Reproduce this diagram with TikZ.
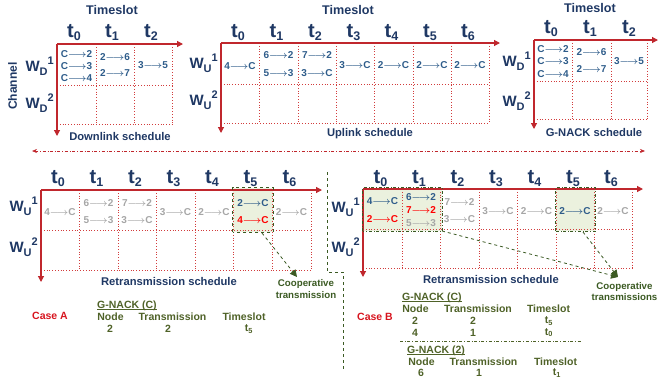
\documentclass[tikz,border=0pt]{standalone}
\usepackage{fontspec}
\setmainfont{Liberation Sans}
\usetikzlibrary{arrows.meta}

\definecolor{navy}{HTML}{1F3864}
\definecolor{cellblue}{HTML}{2E5C8A}
\definecolor{axisred}{HTML}{C0272D}
\definecolor{gridred}{HTML}{D23C3C}
\definecolor{fadegray}{HTML}{A6A6A6}
\definecolor{hotred}{HTML}{FF0000}
\definecolor{casered}{HTML}{D7141E}
\definecolor{olive}{HTML}{4F6228}
\definecolor{coopgreen}{HTML}{3B5A23}
\definecolor{coopfill}{HTML}{EBF1DE}

% link arrow used inside the cells
\newcommand\arr{{\boldmath$\longrightarrow$}}
% slot label t_i
\newcommand\tlab[1]{{\fontsize{20}{20}\selectfont t}\raisebox{-3pt}{\fontsize{12.5}{12.5}\selectfont #1}}
% channel label W_sub^sup
\newcommand\wlab[2]{W\raisebox{-4pt}{\fontsize{11}{11}\selectfont #1}\raisebox{7pt}{\fontsize{11}{11}\selectfont #2}}

\tikzset{
  axis/.style={axisred, line width=1.2pt, -{Triangle[length=6pt,width=6pt]}},
  gridline/.style={gridred, line width=0.8pt, dotted},
  title/.style={navy, inner sep=0pt, font=\fontsize{12.6}{14}\selectfont\bfseries},
  tname/.style={navy, anchor=base, inner sep=0pt, font=\bfseries},
  wname/.style={navy, anchor=base east, inner sep=0pt, font=\fontsize{15}{15}\selectfont\bfseries},
  capt/.style={navy, inner sep=0pt, font=\fontsize{11.2}{13}\selectfont\bfseries},
  cell/.style={cellblue, inner sep=0pt, font=\fontsize{10}{12}\selectfont\bfseries},
  faded/.style={cell, fadegray},
  hot/.style={cell, hotred},
  coopbox/.style={fill=coopfill, inner sep=0pt, minimum height=43pt},
  cooparrow/.style={coopgreen, dashed, line width=0.8pt, -{Triangle[length=7pt,width=7pt]}},
  coopnote/.style={coopgreen, align=center, inner sep=0pt, font=\fontsize{9.7}{11.5}\selectfont\bfseries},
  tbl/.style={olive, inner sep=0pt, font=\fontsize{10.5}{12}\selectfont\bfseries},
  tblrule/.style={olive, line width=0.6pt},
  casename/.style={casered, inner sep=0pt, font=\fontsize{10.5}{12}\selectfont\bfseries},
}

\begin{document}
\begin{tikzpicture}[x=1pt, y=-1pt]
\useasboundingbox (0,0) rectangle (659,386);

% ---------------- Downlink schedule ----------------
\node[title] (dl-title) at (112,9.5) {Timeslot};
\foreach \c/\x in {0/74,1/112,2/151} \node[tname] (dl-t\c) at (\x,37) {\tlab{\c}};
\node[wname] (dl-w1) at (54,71) {\wlab{D}{1}};
\node[wname] (dl-w2) at (54,108) {\wlab{D}{2}};
\node[navy, rotate=90, inner sep=0pt, font=\fontsize{12}{14}\selectfont\bfseries] (chan) at (12.5,86) {Channel};
\foreach \x in {96,134,172} \draw[gridline] (\x,44) -- (\x,124);
\foreach \y in {85,124} \draw[gridline] (57,\y) -- (172,\y);
\draw[axis] (57,44) -- (183,44);
\draw[axis] (57,44) -- (57,136);
\node[cell] (dl-a) at (76.5,54) {C\arr2};
\node[cell] (dl-b) at (76.5,66) {C\arr3};
\node[cell] (dl-c) at (76.5,78) {C\arr4};
\node[cell] (dl-d) at (115,57) {2\arr6};
\node[cell] (dl-e) at (115,73) {2\arr7};
\node[cell] (dl-f) at (153,65) {3\arr5};
\node[capt] (dl-cap) at (120,136) {Downlink schedule};

% ---------------- Uplink schedule ----------------
\node[title] (ul-title) at (348,9.5) {Timeslot};
\foreach \c/\x in {0/238,1/276.5,2/315,3/353.5,4/391.5,5/430,6/468} \node[tname] (ul-t\c) at (\x,37) {\tlab{\c}};
\node[wname] (ul-w1) at (218,68) {\wlab{U}{1}};
\node[wname] (ul-w2) at (218,105) {\wlab{U}{2}};
\foreach \x in {259,298,336,374,413,451,489} \draw[gridline] (\x,43) -- (\x,123);
\foreach \y in {84,123} \draw[gridline] (221,\y) -- (489,\y);
\draw[axis] (221,43) -- (500,43);
\draw[axis] (221,43) -- (221,133);
\node[cell] (ul-a) at (240,66) {4\arr C};
\node[cell] (ul-b) at (278.5,55) {6\arr2};
\node[cell] (ul-c) at (278.5,73) {5\arr3};
\node[cell] (ul-d) at (317,55) {7\arr2};
\node[cell] (ul-e) at (317,73) {3\arr C};
\node[cell] (ul-f) at (355,65) {3\arr C};
\node[cell] (ul-g) at (393.5,65) {2\arr C};
\node[cell] (ul-h) at (432,65) {2\arr C};
\node[cell] (ul-i) at (470,65) {2\arr C};
\node[capt] (ul-cap) at (370,134) {Uplink schedule};

% ---------------- G-NACK schedule ----------------
\node[title] (gn-title) at (590,8) {Timeslot};
\foreach \c/\x in {0/551,1/590,2/629} \node[tname] (gn-t\c) at (\x,33) {\tlab{\c}};
\node[wname] (gn-w1) at (531,66) {\wlab{D}{1}};
\node[wname] (gn-w2) at (531,106) {\wlab{D}{2}};
\foreach \x in {572,611,647} \draw[gridline] (\x,40) -- (\x,119);
\foreach \y in {81,119} \draw[gridline] (534,\y) -- (647,\y);
\draw[axis] (534,40) -- (658,40);
\draw[axis] (534,40) -- (534,129);
\node[cell] (gn-a) at (553,49) {C\arr2};
\node[cell] (gn-b) at (553,61) {C\arr3};
\node[cell] (gn-c) at (553,74) {C\arr4};
\node[cell] (gn-d) at (591.5,52) {2\arr6};
\node[cell] (gn-e) at (591.5,69) {2\arr7};
\node[cell] (gn-f) at (629,61) {3\arr5};
\node[capt] (gn-cap) at (594,132) {G-NACK schedule};

% ---------------- separators ----------------
\coordinate (sepL) at (32,151);
\coordinate (sepR) at (645,151);
\draw[axisred, dash dot, line width=0.6pt, {Stealth[length=5pt,width=4pt]}-{Stealth[length=5pt,width=4pt]}] (sepL) -- (sepR);
\draw[coopgreen, dashed, line width=0.8pt] (327,172) -- (327,272) -- (343,272) -- (343,370);

% ---------------- Case A: retransmission schedule ----------------
\node[coopbox, minimum width=40pt, minimum height=44pt] (boxA) at (253,210) {};
\foreach \c/\x in {0/58,1/96.5,2/135,3/173.5,4/212,5/250.5,6/289.5} \node[tname] (ra-t\c) at (\x,183) {\tlab{\c}};
\node[wname] (ra-w1) at (38,211) {\wlab{U}{1}};
\node[wname] (ra-w2) at (38,252) {\wlab{U}{2}};
\foreach \x in {79,118,156,195,233,272,311} \draw[gridline] (\x,190) -- (\x,270);
\foreach \y in {230,270} \draw[gridline] (41,\y) -- (311,\y);
\draw[axis] (41,190) -- (322,190);
\draw[axis] (41,190) -- (41,282);
\draw[coopgreen, dashed, line width=0.9pt] (boxA.south west) rectangle (boxA.north east);
\node[faded] (ra-a) at (60,212) {4\arr C};
\node[faded] (ra-b) at (98.5,203) {6\arr2};
\node[faded] (ra-c) at (98.5,220) {5\arr3};
\node[faded] (ra-d) at (137,203) {7\arr2};
\node[faded] (ra-e) at (137,220) {3\arr C};
\node[faded] (ra-f) at (175.5,212) {3\arr C};
\node[faded] (ra-g) at (214,212) {2\arr C};
\node[cell]  (ra-h) at (253,203) {2\arr C};
\node[hot]   (ra-i) at (253,220) {4\arr C};
\node[faded] (ra-j) at (291.5,212) {2\arr C};
\node[capt] (ra-cap) at (169,281) {Retransmission schedule};
\node[coopnote] (noteA) at (306,289) {Cooperative\\transmission};
\coordinate (fromA) at (262,233);
\coordinate (tipA) at (297,277);
\draw[cooparrow] (fromA) -- (tipA);

% Case A G-NACK table
\node[casename] (caseA) at (50,316) {Case A};
\node[tbl, anchor=base west] (ga-head) at (97,308) {G-NACK (C)};
\draw[tblrule] ([yshift=-1.6pt]ga-head.base west) -- ([yshift=-1.6pt]ga-head.base east);
\node[tbl] (ga-node) at (110.5,316.5) {Node};
\node[tbl] (ga-tx) at (172.5,316.5) {Transmission};
\node[tbl] (ga-ts) at (244,316.5) {Timeslot};
\node[tbl] (ga-n1) at (110,329) {2};
\node[tbl] (ga-x1) at (168,329) {2};
\node[tbl] (ga-s1) at (249,329) {t\textsubscript{5}};

% ---------------- Case B: retransmission schedule ----------------
\node[coopbox, minimum width=79pt] (boxB1) at (402.5,209.5) {};
\node[coopbox, minimum width=39pt] (boxB2) at (575.5,209.5) {};
\foreach \c/\x in {0/380.5,1/419,2/457.5,3/496,4/534.5,5/573,6/611} \node[tname] (rb-t\c) at (\x,183) {\tlab{\c}};
\node[wname] (rb-w1) at (360,212) {\wlab{U}{1}};
\node[wname] (rb-w2) at (360,252) {\wlab{U}{2}};
\foreach \x in {402,440,479,517,556,594,632} \draw[gridline] (\x,189) -- (\x,268);
\foreach \y in {229,268} \draw[gridline] (363,\y) -- (632,\y);
\draw[axis] (363,189) -- (643,189);
\draw[axis] (363,189) -- (363,277);
\draw[coopgreen, dash dot, line width=0.9pt] (boxB1.south west) rectangle (boxB1.north east);
\draw[coopgreen, dash dot, line width=0.9pt] (boxB2.south west) rectangle (boxB2.north east);
\node[cell]  (rb-a) at (382.5,201) {4\arr C};
\node[hot]   (rb-b) at (382.5,219) {2\arr C};
\node[cell]  (rb-c) at (421,197) {6\arr2};
\node[hot]   (rb-d) at (421,210) {7\arr2};
\node[faded] (rb-e) at (421,223) {5\arr3};
\node[faded] (rb-f) at (459.5,202) {7\arr2};
\node[faded] (rb-g) at (459.5,219) {3\arr C};
\node[faded] (rb-h) at (498,211) {3\arr C};
\node[faded] (rb-i) at (536.5,211) {2\arr C};
\node[cell]  (rb-j) at (575,211) {2\arr C};
\node[faded] (rb-k) at (613,211) {2\arr C};
\node[capt] (rb-cap) at (491,279) {Retransmission schedule};
\node[coopnote] (noteB) at (624.5,291.5) {Cooperative\\transmissions};
\coordinate (fromB1) at (442,231);
\coordinate (fromB2) at (583,232);
\coordinate (tipB) at (618,277);
\draw[cooparrow] (fromB1) -- (tipB);
\draw[cooparrow] (fromB2) -- (tipB);

% Case B G-NACK tables
\node[casename] (caseB) at (375,317) {Case B};
\node[tbl, anchor=base west] (gb-head) at (402,300) {G-NACK (C)};
\draw[tblrule] ([yshift=-1.6pt]gb-head.base west) -- ([yshift=-1.6pt]gb-head.base east);
\node[tbl] (gb-node) at (415.5,308.5) {Node};
\node[tbl] (gb-tx) at (478,308.5) {Transmission};
\node[tbl] (gb-ts) at (548.5,308.5) {Timeslot};
\node[tbl] (gb-n1) at (415,321) {2};
\node[tbl] (gb-x1) at (473,321) {2};
\node[tbl] (gb-s1) at (549,321) {t\textsubscript{5}};
\node[tbl] (gb-n2) at (415,332.5) {4};
\node[tbl] (gb-x2) at (473,332.5) {1};
\node[tbl] (gb-s2) at (549,332.5) {t\textsubscript{0}};
\coordinate (ruleL) at (400,341);
\coordinate (ruleR) at (582,341);
\draw[olive, dash dot, line width=0.7pt] (ruleL) -- (ruleR);
\node[tbl, anchor=base west] (gc-head) at (407,353) {G-NACK (2)};
\draw[tblrule] ([yshift=-1.6pt]gc-head.base west) -- ([yshift=-1.6pt]gc-head.base east);
\node[tbl] (gc-node) at (421.5,362) {Node};
\node[tbl] (gc-tx) at (483.5,362) {Transmission};
\node[tbl] (gc-ts) at (555.5,362) {Timeslot};
\node[tbl] (gc-n1) at (421,373) {6};
\node[tbl] (gc-x1) at (479,373) {1};
\node[tbl] (gc-s1) at (557,373) {t\textsubscript{1}};
\end{tikzpicture}
\end{document}
